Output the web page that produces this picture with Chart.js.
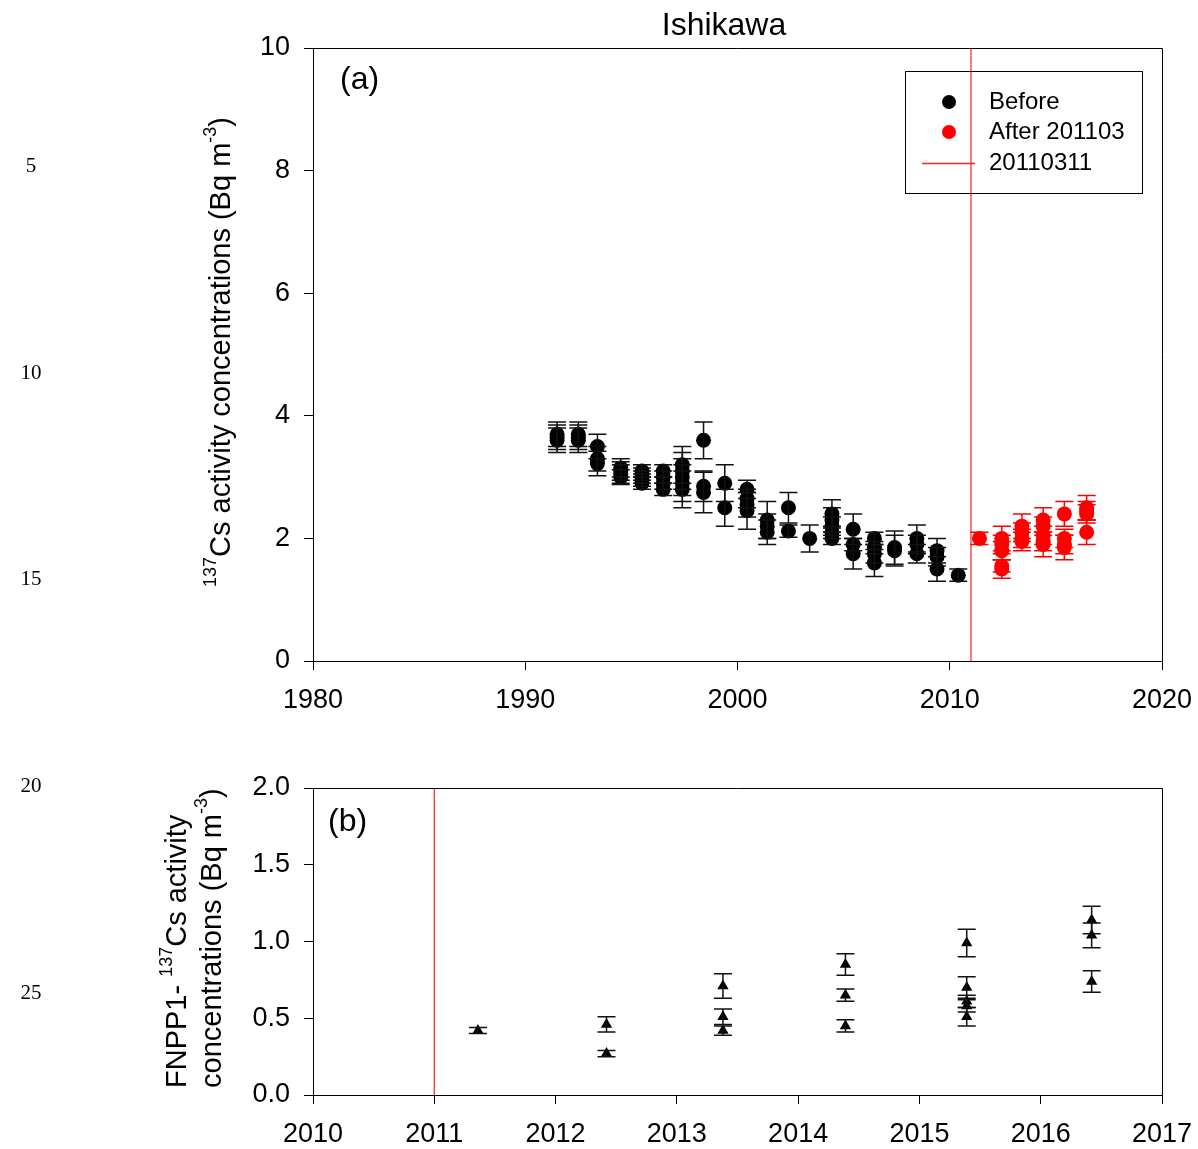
<!DOCTYPE html>
<html>
<head>
<meta charset="utf-8">
<script src="https://cdn.jsdelivr.net/npm/chart.js@4.4.1/dist/chart.umd.min.js"></script>
<style>
  body { margin: 0; background: #fff; }
  #wrap { position: relative; width: 1198px; height: 1149px; }
  canvas { position: absolute; left: 0; }
  .ln { position: absolute; width: 60px; left: 1px; text-align: center;
        font-family: "Liberation Serif", "Times New Roman", serif; font-size: 21px; line-height: 24px; }
</style>
</head>
<body>
<div id="wrap">
  <canvas id="graficoA" width="1198" height="740" style="top:0"></canvas>
  <canvas id="graficoB" width="1198" height="409" style="top:740px"></canvas>
  <div class="ln" style="top:153px">5</div>
  <div class="ln" style="top:360px">10</div>
  <div class="ln" style="top:566px">15</div>
  <div class="ln" style="top:773px">20</div>
  <div class="ln" style="top:980px">25</div>
</div>
<script>
// (a) 137Cs antes do acidente
const anoAntes = [
  1991.5, 1991.5, 1991.5, 1992.5, 1992.5, 1992.5, 1993.4, 1993.4, 1993.4,
  1994.5, 1994.5, 1994.5, 1994.5, 1995.5, 1995.5, 1995.5, 1995.5, 1995.5,
  1996.5, 1996.5, 1996.5, 1996.5, 1997.4, 1997.4, 1997.4, 1997.4, 1997.4,
  1998.4, 1998.4, 1998.4, 1999.4, 1999.4, 2000.45, 2000.45, 2000.45, 2000.45,
  2001.4, 2001.4, 2001.4, 2002.4, 2002.4, 2003.4,
  2004.45, 2004.45, 2004.45, 2004.45, 2004.45, 2005.45, 2005.45, 2005.45,
  2006.45, 2006.45, 2006.45, 2006.45, 2007.4, 2007.4,
  2008.45, 2008.45, 2008.45, 2009.4, 2009.4, 2009.4, 2010.4
];
const valorAntes = [
  3.6, 3.65, 3.7, 3.6, 3.7, 3.65, 3.5, 3.3, 3.22,
  3.15, 3.1, 3.05, 3.0, 3.1, 3.05, 3.0, 2.95, 2.9,
  3.1, 3.0, 2.9, 2.8, 3.2, 3.1, 3.0, 2.9, 2.8,
  3.6, 2.85, 2.75, 2.9, 2.5, 2.8, 2.65, 2.55, 2.45,
  2.3, 2.2, 2.1, 2.5, 2.12, 2.0,
  2.4, 2.3, 2.2, 2.1, 2.0, 2.15, 1.9, 1.75,
  2.0, 1.85, 1.75, 1.6, 1.85, 1.8,
  2.0, 1.9, 1.75, 1.8, 1.7, 1.5, 1.4
];
const erroAntes = [
  0.2, 0.2, 0.2, 0.2, 0.2, 0.2, 0.2, 0.2, 0.2,
  0.15, 0.15, 0.15, 0.12, 0.1, 0.1, 0.1, 0.1, 0.1,
  0.1, 0.1, 0.1, 0.1, 0.3, 0.3, 0.3, 0.3, 0.3,
  0.3, 0.25, 0.33, 0.3, 0.3, 0.15, 0.15, 0.2, 0.3,
  0.3, 0.2, 0.2, 0.25, 0.1, 0.22,
  0.23, 0.2, 0.15, 0.1, 0.1, 0.25, 0.1, 0.25,
  0.1, 0.1, 0.15, 0.22, 0.27, 0.25,
  0.22, 0.15, 0.15, 0.2, 0.15, 0.2, 0.1
];

// (a) depois de 201103
const anoDepois = [
  2011.4, 2012.45, 2012.45, 2012.45, 2012.45, 2012.45,
  2013.4, 2013.4, 2013.4, 2013.4, 2014.4, 2014.4, 2014.4, 2014.4, 2014.4,
  2015.4, 2015.4, 2015.4, 2015.4, 2016.45, 2016.45, 2016.45, 2016.45
];
const valorDepois = [
  2.0, 2.0, 1.9, 1.8, 1.55, 1.5,
  2.2, 2.1, 2.0, 1.95, 2.3, 2.2, 2.05, 1.95, 1.9,
  2.4, 2.0, 1.9, 1.85, 2.5, 2.45, 2.4, 2.1
];
const erroDepois = [
  0.1, 0.2, 0.15, 0.15, 0.1, 0.15,
  0.2, 0.15, 0.15, 0.15, 0.2, 0.15, 0.15, 0.15, 0.2,
  0.2, 0.15, 0.15, 0.2, 0.2, 0.15, 0.15, 0.2
];

// (b) FNPP1-137Cs
const anoFnpp = [
  2011.36, 2012.42, 2012.42, 2013.38, 2013.38, 2013.38,
  2014.39, 2014.39, 2014.39, 2015.39, 2015.39, 2015.39, 2015.39, 2015.39,
  2016.42, 2016.42, 2016.42
];
const valorFnpp = [
  0.42, 0.46, 0.27, 0.71, 0.51, 0.42,
  0.85, 0.65, 0.45, 0.99, 0.70, 0.61, 0.58, 0.51,
  1.14, 1.04, 0.74
];
const erroFnpp = [
  0.02, 0.05, 0.02, 0.08, 0.05, 0.03,
  0.07, 0.04, 0.04, 0.09, 0.07, 0.04, 0.04, 0.06,
  0.09, 0.08, 0.07
];

const dataAcidente = 2011;
const ticksAnoA = [1980, 1990, 2000, 2010, 2020];
const ticksValorA = [0, 2, 4, 6, 8, 10];
const ticksAnoB = [2010, 2011, 2012, 2013, 2014, 2015, 2016, 2017];
const ticksValorB = [0, 0.5, 1.0, 1.5, 2.0];

const FONTE = 'Arial, "Liberation Sans", sans-serif';
Chart.defaults.font.family = FONTE;
Chart.defaults.color = '#000';

function pontos(xs, ys) {
  return xs.map((x, i) => ({ x: x, y: ys[i] }));
}

// barras de erro usando as escalas do grafico
const barrasErro = {
  id: 'barrasErro',
  afterDatasetsDraw(chart) {
    const ctx = chart.ctx;
    const escY = chart.scales.y;
    chart.data.datasets.forEach((ds, i) => {
      if (!ds.erros) return;
      const meta = chart.getDatasetMeta(i);
      ctx.save();
      ctx.strokeStyle = ds.corErro;
      ctx.lineWidth = 1.5;
      meta.data.forEach((p, j) => {
        const v = ds.data[j].y;
        const e = ds.erros[j];
        const y1 = escY.getPixelForValue(v + e);
        const y2 = escY.getPixelForValue(v - e);
        ctx.beginPath();
        ctx.moveTo(p.x, y1); ctx.lineTo(p.x, y2);
        ctx.moveTo(p.x - 9, y1); ctx.lineTo(p.x + 9, y1);
        ctx.moveTo(p.x - 9, y2); ctx.lineTo(p.x + 9, y2);
        ctx.stroke();
      });
      ctx.restore();
    });
  }
};

function moldura(chart) {
  const a = chart.chartArea;
  const ctx = chart.ctx;
  ctx.save();
  ctx.strokeStyle = '#000';
  ctx.lineWidth = 1;
  ctx.beginPath();
  ctx.moveTo(a.left, a.top + 0.5); ctx.lineTo(a.right + 0.5, a.top + 0.5);
  ctx.lineTo(a.right + 0.5, a.bottom);
  ctx.stroke();
  ctx.restore();
}

// texto girado com sobrescritos
function textoVertical(ctx, x, y, partes, alinhar) {
  ctx.save();
  ctx.translate(x, y);
  ctx.rotate(-Math.PI / 2);
  ctx.textBaseline = 'middle';
  ctx.fillStyle = '#000';
  let total = 0;
  partes.forEach(p => {
    ctx.font = (p.sup ? '18px ' : '29px ') + FONTE;
    total += ctx.measureText(p.t).width;
  });
  let cx = alinhar === 'centro' ? -total / 2 : 0;
  partes.forEach(p => {
    ctx.font = (p.sup ? '18px ' : '29px ') + FONTE;
    ctx.fillText(p.t, cx, p.sup ? -11 : 0);
    cx += ctx.measureText(p.t).width;
  });
  ctx.restore();
}

function eixo(min, max, valores, formato) {
  return {
    type: 'linear',
    min: min,
    max: max,
    afterBuildTicks: s => { s.ticks = valores.map(v => ({ value: v })); },
    ticks: {
      color: '#000',
      font: { size: 27 },
      padding: 14,
      maxRotation: 0,
      callback: formato
    },
    grid: { drawOnChartArea: false, drawTicks: true, tickLength: 9, color: '#000', tickColor: '#000' },
    border: { display: true, color: '#000', width: 1 }
  };
}

const textosA = {
  id: 'textosA',
  afterDraw(chart) {
    const ctx = chart.ctx;
    moldura(chart);
    ctx.save();
    ctx.fillStyle = '#000';
    ctx.font = '32px ' + FONTE;
    ctx.textAlign = 'center';
    ctx.textBaseline = 'middle';
    ctx.fillText('Ishikawa', 724, 26);
    ctx.textAlign = 'left';
    ctx.fillText('(a)', 340, 80);

    // legenda
    ctx.strokeStyle = '#000';
    ctx.lineWidth = 1;
    ctx.strokeRect(905.5, 71.5, 237, 122);
    ctx.fillStyle = '#000';
    ctx.beginPath(); ctx.arc(949, 102, 7, 0, Math.PI * 2); ctx.fill();
    ctx.fillStyle = '#ff0000';
    ctx.beginPath(); ctx.arc(949, 132, 7, 0, Math.PI * 2); ctx.fill();
    ctx.strokeStyle = '#ff2020';
    ctx.lineWidth = 1.3;
    ctx.beginPath(); ctx.moveTo(922, 163.5); ctx.lineTo(975, 163.5); ctx.stroke();
    ctx.fillStyle = '#000';
    ctx.font = '24px ' + FONTE;
    ctx.fillText('Before', 989, 102);
    ctx.fillText('After 201103', 989, 132);
    ctx.fillText('20110311', 989, 163);
    ctx.restore();

    textoVertical(ctx, 222, 352, [
      { t: '137', sup: true }, { t: 'Cs activity concentrations (Bq m' },
      { t: '-3', sup: true }, { t: ')' }
    ], 'centro');
  }
};

const textosB = {
  id: 'textosB',
  afterDraw(chart) {
    const ctx = chart.ctx;
    moldura(chart);
    ctx.save();
    ctx.fillStyle = '#000';
    ctx.font = '32px ' + FONTE;
    ctx.textBaseline = 'middle';
    ctx.fillText('(b)', 328, 82);
    ctx.restore();
    textoVertical(ctx, 178, 348, [
      { t: 'FNPP1- ' }, { t: '137', sup: true }, { t: 'Cs activity' }
    ], 'inicio');
    textoVertical(ctx, 213, 348, [
      { t: 'concentrations (Bq m' }, { t: '-3', sup: true }, { t: ')' }
    ], 'inicio');
  }
};

function ajustarX(altura) {
  return s => {
    s.height = altura;
    s.paddingLeft = 0;
    s.paddingRight = 0;
  };
}

function ajustarY(s) {
  s.width = 313;
  s.paddingTop = 0;
  s.paddingBottom = 0;
}

new Chart(document.getElementById('graficoA'), {
  type: 'scatter',
  data: {
    datasets: [
      {
        label: 'Before',
        data: pontos(anoAntes, valorAntes),
        erros: erroAntes,
        corErro: '#111',
        pointRadius: 7.5,
        pointBorderWidth: 0,
        backgroundColor: '#000',
        borderColor: '#000'
      },
      {
        label: 'After 201103',
        data: pontos(anoDepois, valorDepois),
        erros: erroDepois,
        corErro: '#ff0000',
        pointRadius: 7.5,
        pointBorderWidth: 0,
        backgroundColor: '#ff0000',
        borderColor: '#ff0000'
      },
      {
        label: '20110311',
        type: 'line',
        data: [{ x: dataAcidente, y: 0 }, { x: dataAcidente, y: 10 }],
        borderColor: '#ff2020',
        borderWidth: 1.2,
        pointRadius: 0
      }
    ]
  },
  options: {
    responsive: false,
    animation: false,
    devicePixelRatio: 1,
    layout: { padding: { left: 0, top: 48, right: 36, bottom: 0 } },
    scales: {
      x: Object.assign(eixo(1980, 2020, ticksAnoA, v => String(v)), { afterFit: ajustarX(79) }),
      y: Object.assign(eixo(0, 10, ticksValorA, v => String(v)), { afterFit: ajustarY })
    },
    plugins: {
      legend: { display: false },
      tooltip: { enabled: false }
    }
  },
  plugins: [barrasErro, textosA]
});

new Chart(document.getElementById('graficoB'), {
  type: 'scatter',
  data: {
    datasets: [
      {
        label: 'FNPP1-137Cs',
        data: pontos(anoFnpp, valorFnpp),
        erros: erroFnpp,
        corErro: '#111',
        pointStyle: 'triangle',
        pointRadius: 6.5,
        pointBorderWidth: 0,
        backgroundColor: '#000',
        borderColor: '#000'
      },
      {
        label: '20110311',
        type: 'line',
        data: [{ x: dataAcidente, y: 0 }, { x: dataAcidente, y: 2 }],
        borderColor: '#ff2020',
        borderWidth: 1.2,
        pointRadius: 0
      }
    ]
  },
  options: {
    responsive: false,
    animation: false,
    devicePixelRatio: 1,
    layout: { padding: { left: 0, top: 48, right: 36, bottom: 0 } },
    scales: {
      x: Object.assign(eixo(2010, 2017, ticksAnoB, v => String(v)), { afterFit: ajustarX(54) }),
      y: Object.assign(eixo(0, 2, ticksValorB, v => v.toFixed(1)), { afterFit: ajustarY })
    },
    plugins: {
      legend: { display: false },
      tooltip: { enabled: false }
    }
  },
  plugins: [barrasErro, textosB]
});
</script>
</body>
</html>
